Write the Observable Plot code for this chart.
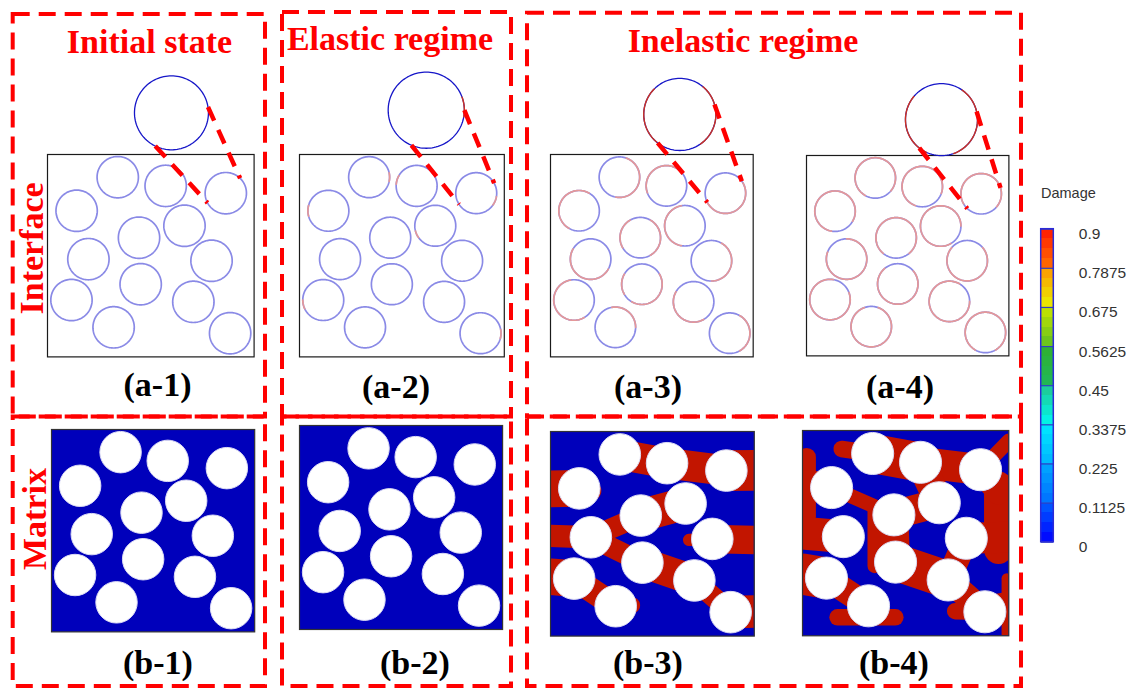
<!DOCTYPE html>
<html><head><meta charset="utf-8">
<script src="https://cdn.jsdelivr.net/npm/d3@7"></script>
<script src="https://cdn.jsdelivr.net/npm/@observablehq/plot@0.6"></script>
<style>
body{margin:0;background:#fff;}
#fig{position:relative;width:1130px;height:688px;overflow:hidden;background:#fff;}
#fig svg{position:absolute;}
</style></head>
<body><div id="fig"></div>
<script>
// ---------- data ----------
// fibre centres (normalised cell coordinates, y downward) and radius
const fiberX = [0.340,0.572,0.863,0.141,0.663,0.443,0.198,0.794,0.451,0.116,0.706,0.320,0.884];
const fiberY = [0.112,0.155,0.191,0.278,0.352,0.411,0.517,0.525,0.641,0.719,0.728,0.854,0.883];
const fiberR = 0.1;

// damaged (red) interface arcs: [fibre, fromDeg, toDeg]
const arcsA1 = [];
const arcsA2 = [[0,-12,12],[1,150,175],[2,-35,-10],[3,165,195],[4,195,215],[9,180,205],[12,-15,10]];
const arcsA3 = [[0,-100,70],[1,60,200],[2,-150,30],[3,60,240],[4,100,260],[5,-60,60],[5,120,210],[6,150,330],[7,-90,60],[8,-120,30],[8,150,210],[9,100,300],[10,150,300],[11,0,100],[12,-60,60]];
const arcsA4 = [[0,-40,240],[1,-20,250],[2,-40,210],[3,-30,260],[4,0,300],[5,-50,230],[6,160,450],[7,140,400],[8,130,400],[9,80,380],[10,60,360],[11,110,430],[12,-60,240]];

// magnified view of fibre 3 above each interface panel
const magX = [0.600,0.619,0.638,0.667];
const magY = [-0.206,-0.219,-0.198,-0.179];
const magR = [0.179,0.186,0.178,0.178];
const magRedA1 = [];
const magRedA2 = [[-10,20]];
const magRedA3 = [[-55,50],[135,230]];
const magRedA4 = [[-70,55],[140,245]];
const linkMagA = [-116,-113,-128,-128];
const linkFibA = [-152,-147,-153,-133];
const linkMagB = [9,0,16,13];
const linkFibB = [46,29,36,17];

// matrix damage bands: [from, to, width]; from/to = fibre index or [x,y]
const bandsB1 = [];
const bandsB2 = [];
const bandsB3 = [[0,1,0.15],[1,2,0.15],[2,[1.0,0.19],0.2],[3,[0,0.28],0.18],[3,[0.2,0.29],0.1],
  [5,4,0.16],[5,6,0.1],[6,8,0.1],[6,[0,0.51],0.11],[8,10,0.15],[10,12,0.1],
  [7,[0.68,0.53],0.06],[7,[1.0,0.53],0.14],[9,[0,0.71],0.18],[9,11,0.12],[11,[0.4,0.85],0.08],[12,[1.0,0.88],0.16]];
const bandsB4 = [[0,[0.19,0.09],0.08],[0,1,0.19],[1,2,0.15],[1,4,0.14],[2,[1.0,0.05],0.07],
  [[0.95,0.27],[0.95,0.58],0.14],[2,[0.95,0.3],0.12],[7,[1.0,0.52],0.15],
  [[0.02,0.13],[0.02,0.42],0.09],[3,[0,0.27],0.15],[3,5,0.07],[[0.35,0.38],[0.35,0.66],0.07],[5,8,0.14],[5,4,0.14],
  [6,[0,0.5],0.16],[8,10,0.18],[7,10,0.12],[10,12,0.12],[12,[0.74,0.88],0.08],[12,[1.0,0.86],0.15],[[0.99,0.72],[0.99,1.0],0.05],
  [9,[0,0.7],0.2],[9,11,0.12],[[0.17,0.91],[0.45,0.91],0.08]];

// colour bar
const cbTicks = [0,0.1125,0.225,0.3375,0.45,0.5625,0.675,0.7875,0.9];
const cbLabels = ["0","0.1125","0.225","0.3375","0.45","0.5625","0.675","0.7875","0.9"];
const segLow  = ["#0000ff","#0070ff","#00b4ff","#00f8f0","#20b858","#60c020","#e8f000","#ff7000"];
const segHigh = ["#0060ff","#00a8ff","#00e8ff","#20c890","#30b030","#c8e400","#ff9800","#ff1800"];

// ---------- layout ----------
const fig = document.getElementById("fig");
const boxes = {
  "a-1":[47.2,154.3,206.6,202.4], "a-2":[298.6,154.3,204.8,202.4],
  "a-3":[549.6,154.3,202.7,202.4], "a-4":[805.6,155.3,202.4,200.4],
  "b-1":[50.6,429.3,203.2,202.4], "b-2":[298.6,425,203.1,204],
  "b-3":[550.4,430.7,203.8,204.6], "b-4":[801.7,430,206.3,205.3]
};

function ringPts(cx, cy, r, a0, a1, id, ay){
  const pts=[]; const n=Math.max(2,Math.ceil(Math.abs(a1-a0)/3));
  for(let i=0;i<=n;i++){const a=(a0+(a1-a0)*i/n)*Math.PI/180;
    pts.push({x:cx+r*Math.cos(a), y:cy-r*ay*Math.sin(a), id});}
  return pts;
}
function place(svg, left, top){svg.style.left=left+"px";svg.style.top=top+"px";fig.appendChild(svg);}

function topPanel(k, arcs, magRed, box){
  const [L,T,W,H]=box, ay=W/H, ml=14, mr=14, mt=116, mb=8;
  const rings=[], reds=[], magRing=ringPts(magX[k],magY[k],magR[k],0,360,0,ay), magReds=[];
  fiberX.forEach((x,i)=>rings.push(...ringPts(x,fiberY[i],fiberR,0,360,i,ay)));
  arcs.forEach(([i,a0,a1],j)=>reds.push(...ringPts(fiberX[i],fiberY[i],fiberR,a0,a1,j,ay)));
  magRed.forEach(([a0,a1],j)=>magReds.push(...ringPts(magX[k],magY[k],magR[k],a0,a1,j,ay)));
  const pt=(cx,cy,r,a)=>[cx+r*Math.cos(a*Math.PI/180), cy-r*ay*Math.sin(a*Math.PI/180)];
  const conns=[[linkMagA[k],linkFibA[k]],[linkMagB[k],linkFibB[k]]].map(([am,af])=>{
    const p=pt(magX[k],magY[k],magR[k],am), q=pt(fiberX[2],fiberY[2],fiberR,af);
    return {x1:p[0],y1:p[1],x2:q[0],y2:q[1]};});
  const svg=Plot.plot({
    width:W+ml+mr, height:H+mt+mb, marginLeft:ml, marginRight:mr, marginTop:mt, marginBottom:mb,
    x:{domain:[0,1],axis:null}, y:{domain:[0,1],reverse:true,axis:null},
    style:{background:"transparent",overflow:"visible"},
    marks:[
      Plot.frame({stroke:"#1a1a1a",strokeWidth:1.2}),
      Plot.line(rings,{x:"x",y:"y",z:"id",stroke:"#8a8ae6",strokeWidth:1.7}),
      Plot.line(reds,{x:"x",y:"y",z:"id",stroke:"#e59898",strokeWidth:1.7}),
      Plot.line(magRing,{x:"x",y:"y",z:"id",stroke:"#1616c8",strokeWidth:1.3}),
      Plot.line(magReds,{x:"x",y:"y",z:"id",stroke:"#cc3322",strokeWidth:1.4}),
      Plot.link(conns,{x1:"x1",y1:"y1",x2:"x2",y2:"y2",stroke:"#ff0000",strokeWidth:4.5,strokeDasharray:"15,10"})
    ]});
  place(svg, L-ml, T-mt);
}

function matrixPanel(bands, box){
  const [L,T,W,H]=box, m=6;
  const fp=r=>typeof r==="number"?[fiberX[r],fiberY[r]]:r;
  const bandData=bands.map(([a,b,w])=>{const p=fp(a),q=fp(b);return {x1:p[0],y1:p[1],x2:q[0],y2:q[1],w};});
  const fibers=fiberX.map((x,i)=>({x,y:fiberY[i]}));
  const svg=Plot.plot({
    width:W+2*m, height:H+2*m, margin:m,
    x:{domain:[0,1],axis:null}, y:{domain:[0,1],reverse:true,axis:null},
    style:{background:"transparent"},
    marks:[
      Plot.frame({fill:"#0000bb"}),
      Plot.link(bandData,{x1:"x1",y1:"y1",x2:"x2",y2:"y2",stroke:"#c21500",strokeWidth:d=>d.w*W,strokeLinecap:"round",clip:true}),
      Plot.dot(fibers,{x:"x",y:"y",r:0.102*W,fill:"white",stroke:"#dcdcf4",strokeWidth:1,clip:true}),
      Plot.frame({stroke:"#333",strokeWidth:1.2})
    ]});
  place(svg, L-m, T-m);
}

topPanel(0, arcsA1, magRedA1, boxes["a-1"]);
topPanel(1, arcsA2, magRedA2, boxes["a-2"]);
topPanel(2, arcsA3, magRedA3, boxes["a-3"]);
topPanel(3, arcsA4, magRedA4, boxes["a-4"]);
matrixPanel(bandsB1, boxes["b-1"]);
matrixPanel(bandsB2, boxes["b-2"]);
matrixPanel(bandsB3, boxes["b-3"]);
matrixPanel(bandsB4, boxes["b-4"]);

// colour bar
{
  const bands=[];
  for(let i=0;i<8;i++){
    const c=d3.interpolateRgb(segLow[i],segHigh[i]);
    for(let j=0;j<4;j++){
      const a=cbTicks[i]+(cbTicks[i+1]-cbTicks[i])*j/4, b=cbTicks[i]+(cbTicks[i+1]-cbTicks[i])*(j+1)/4;
      bands.push({y1:a,y2:b,fill:c((j+0.5)/4)});
    }
  }
  const labels=cbTicks.map((t,i)=>({t,label:cbLabels[i]}));
  const svg=Plot.plot({
    width:100, height:350, marginLeft:0, marginRight:0, marginTop:0, marginBottom:0,
    x:{domain:[0,1],range:[10.7,23.3],axis:null},
    y:{domain:[0,0.9],range:[331.7,18.7],axis:null},
    style:{background:"transparent",fontFamily:"Liberation Sans, Arial, sans-serif"},
    marks:[
      Plot.rect(bands,{x1:0,x2:1,y1:"y1",y2:"y2",fill:d=>d.fill,shapeRendering:"crispEdges"}),
      Plot.ruleY(cbTicks,{x1:0,x2:1,stroke:"#3040c0",strokeWidth:1.2}),
      Plot.rect([0],{x1:0,x2:1,y1:0,y2:0.9,fill:"none",stroke:"#2a2ad8",strokeWidth:1.5}),
      Plot.text(labels,{x:1,y:"t",text:"label",textAnchor:"start",dx:25,dy:5,fontSize:15.5,fill:"#333"})
    ]});
  place(svg,1030,210);
}

// frames and text overlay
const ns="http://www.w3.org/2000/svg";
const ov=document.createElementNS(ns,"svg");
ov.setAttribute("width",1130);ov.setAttribute("height",688);
ov.style.left="0px";ov.style.top="0px";
const rects=[[12.7,14,252.3,402.5],[12.7,416.5,252.3,269.5],[282,12,229,404.5],[282,416.5,229,269.5],[527,12.7,494,403.8],[527,416.5,494,269.5]];
let html="";
rects.forEach(([x,y,w,h])=>{html+=`<rect x="${x}" y="${y}" width="${w}" height="${h}" fill="none" stroke="#ff0000" stroke-width="4" stroke-dasharray="17,9"/>`;});
const serif='font-family="Liberation Serif, Times New Roman, serif" font-weight="bold"';
const titles=[["Initial state",149.5,53],["Elastic regime",390,50],["Inelastic regime",743,51.5]];
titles.forEach(([t,x,y])=>{html+=`<text x="${x}" y="${y}" text-anchor="middle" ${serif} font-size="34" fill="#ff0000">${t}</text>`;});
html+=`<text transform="translate(43,248.4) rotate(-90)" text-anchor="middle" ${serif} font-size="34" fill="#ff0000">Interface</text>`;
html+=`<text transform="translate(46,519) rotate(-90)" text-anchor="middle" ${serif} font-size="34" fill="#ff0000">Matrix</text>`;
const labs=[["(a-1)",157.5,396],["(a-2)",396,398],["(a-3)",648,398],["(a-4)",900,398],["(b-1)",158,674],["(b-2)",415,674],["(b-3)",648,674],["(b-4)",894,674]];
labs.forEach(([t,x,y])=>{html+=`<text x="${x}" y="${y}" text-anchor="middle" ${serif} font-size="34" fill="#000">${t}</text>`;});
html+=`<text x="1041" y="198" font-family="Liberation Sans, Arial, sans-serif" font-size="14.5" fill="#333">Damage</text>`;
ov.innerHTML=html;
fig.appendChild(ov);
</script>
</body></html>
